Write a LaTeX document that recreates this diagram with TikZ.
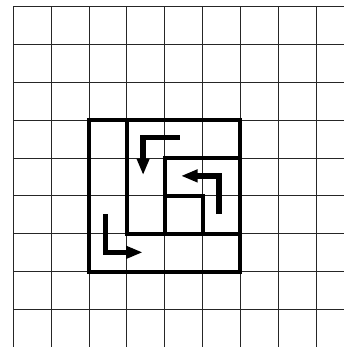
\documentclass[tikz,border=0pt]{standalone}
\usetikzlibrary{arrows.meta}
\tikzset{
    grid line/.style={
        line width=0.7pt,
        black!85
    },
    spiral box/.style={
        line width=3pt,
        black,
        line join=miter
    },
    turn arrow/.style={
        line width=4.1pt,
        black,
        line join=miter,
        -{Triangle[length=12.5pt,width=9pt]}
    }
}
\begin{document}
\begin{tikzpicture}
                \useasboundingbox (-0.351,0.177) rectangle (8.737,-8.991);
                \foreach \i in {0,...,8} {
                    \draw [grid line] (\i,0) -- (\i,-8.991);
                    \draw [grid line] (0,-\i) -- (8.737,-\i);
                }
                \coordinate (A1) at (4.40,-3.45);
                \coordinate (A2) at (3.43,-3.45);
                \coordinate (A3) at (3.43,-4.45);
                \coordinate (B1) at (5.43,-5.48);
                \coordinate (B2) at (5.43,-4.47);
                \coordinate (B3) at (4.43,-4.47);
                \coordinate (C1) at (2.44,-5.48);
                \coordinate (C2) at (2.44,-6.49);
                \coordinate (C3) at (3.42,-6.49);
                \draw [spiral box] (2,-3) rectangle (6,-7);
                \draw [spiral box] (3,-3) -- (3,-6) -- (6,-6);
                \draw [spiral box] (4,-6) -- (4,-4) -- (6,-4);
                \draw [spiral box] (4,-5) -- (5,-5) -- (5,-6);
                \draw [turn arrow] (A1) -- (A2) -- (A3);
                \draw [turn arrow] (B1) -- (B2) -- (B3);
                \draw [turn arrow] (C1) -- (C2) -- (C3);
            \end{tikzpicture}
\end{document}
